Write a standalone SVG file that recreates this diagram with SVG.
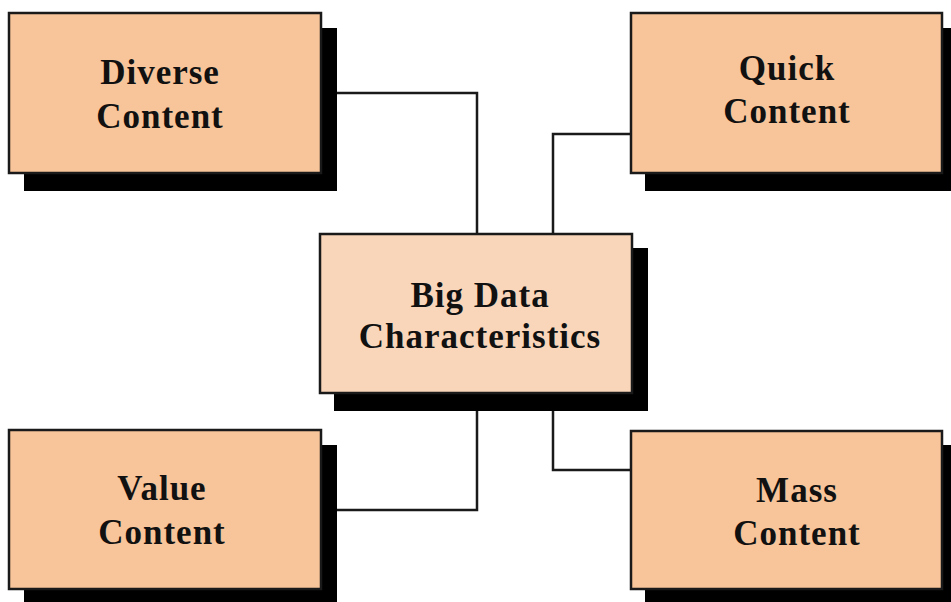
<svg xmlns="http://www.w3.org/2000/svg" width="951" height="602" viewBox="0 0 951 602">
<style>
.shadow{fill:#000}
.box{fill:#F8C499;stroke:#1a1a1a;stroke-width:2.5}
.center{fill:#F9D6BA;stroke:#1a1a1a;stroke-width:2.5}
.lbl{font-family:"Liberation Serif","Times New Roman",serif;font-weight:bold;font-size:35px;fill:#111;text-anchor:middle;letter-spacing:1px}
.conn{fill:none;stroke:#1a1a1a;stroke-width:2.5}
</style>
<rect width="951" height="602" fill="#fff"/>
<g id="connectors">
<path class="conn" d="M321 93 H477 V234"/>
<path class="conn" d="M631 134 H553 V234"/>
<path class="conn" d="M321 510 H477 V393"/>
<path class="conn" d="M631 470 H553 V393"/>
</g>
<g id="diverse">
<rect class="shadow" x="24" y="28" width="313" height="163"/>
<rect class="box" x="9" y="13" width="312" height="160"/>
<text class="lbl" x="160" y="84">Diverse</text>
<text class="lbl" x="160" y="128">Content</text>
</g>
<g id="quick">
<rect class="shadow" x="645" y="28" width="313" height="163"/>
<rect class="box" x="631" y="13" width="311" height="160"/>
<text class="lbl" x="787" y="80">Quick</text>
<text class="lbl" x="787" y="123">Content</text>
</g>
<g id="center-node">
<rect class="shadow" x="334" y="248" width="314" height="163"/>
<rect class="center" x="320" y="234" width="312" height="159"/>
<text class="lbl" x="480" y="307">Big Data</text>
<text class="lbl" x="480" y="348">Characteristics</text>
</g>
<g id="value">
<rect class="shadow" x="24" y="445" width="313" height="163"/>
<rect class="box" x="9" y="430" width="312" height="159"/>
<text class="lbl" x="162" y="500">Value</text>
<text class="lbl" x="162" y="544">Content</text>
</g>
<g id="mass">
<rect class="shadow" x="645" y="445" width="313" height="163"/>
<rect class="box" x="631" y="431" width="311" height="158"/>
<text class="lbl" x="797" y="502">Mass</text>
<text class="lbl" x="797" y="545">Content</text>
</g>
</svg>
